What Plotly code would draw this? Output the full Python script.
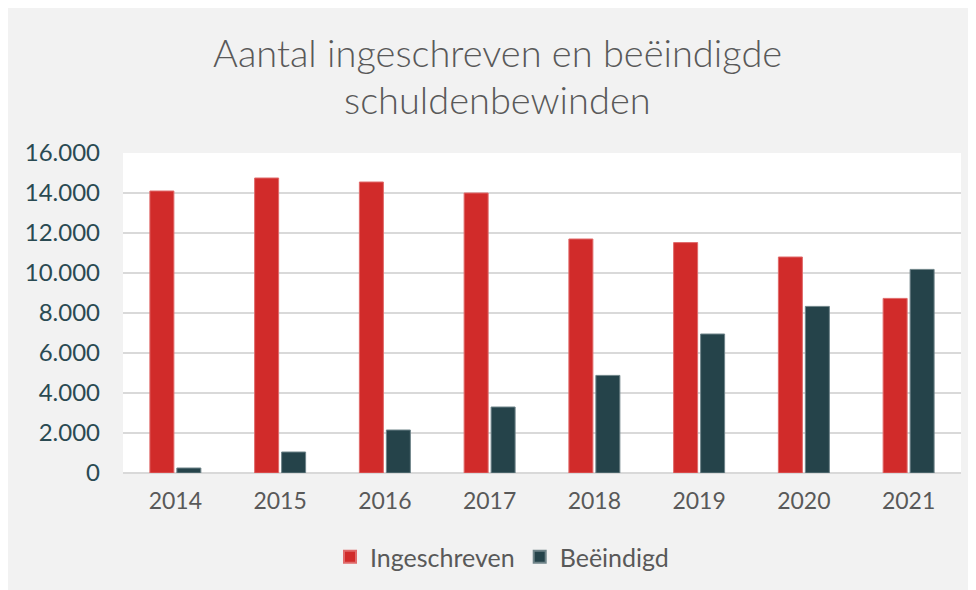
import plotly.graph_objects as go

years = ["2014", "2015", "2016", "2017", "2018", "2019", "2020", "2021"]
ingeschreven = [14100, 14750, 14550, 14000, 11700, 11520, 10800, 8730]
beeindigd = [250, 1050, 2150, 3300, 4880, 6950, 8330, 10180]

title_lines = ["Aantal ingeschreven en beëindigde", "schuldenbewinden"]
FONT = "Lato"
RED = "#D12B2A"
DARK = "#25434A"
GRAY_TXT = "#595959"

fig = go.Figure()
fig.add_trace(go.Bar(x=years, y=ingeschreven, name="Ingeschreven",
                     marker=dict(color=RED, line=dict(color="#E06A6A", width=1))))
fig.add_trace(go.Bar(x=years, y=beeindigd, name="Beëindigd",
                     marker=dict(color=DARK, line=dict(color="#6F8489", width=1))))

# page body has an 8px margin; figure starts at (8, 8) on screen
W, H = 962, 582
L, R, T, B = 115, 9, 145, 117
pw, ph = W - L - R, H - T - B

def px(x):
    return (x - L) / pw

def py(y):
    return (H - B - y) / ph

for txt, yc in zip(title_lines, [44, 91]):
    fig.add_annotation(text=txt, xref="paper", yref="paper",
                       x=px(489), y=py(yc), xanchor="center", yanchor="middle",
                       showarrow=False,
                       font=dict(family=FONT, size=38, color=GRAY_TXT, weight=300))

fig.update_layout(
    width=W, height=H,
    margin=dict(l=L, r=R, t=T, b=B),
    paper_bgcolor="#F2F2F2", plot_bgcolor="#FFFFFF",
    separators=",.",
    barmode="group", bargap=0.485, bargroupgap=0.11,
    font=dict(family=FONT, color=GRAY_TXT),
    showlegend=True,
    legend=dict(orientation="h", xref="container", yref="container",
                x=494 / W, xanchor="center", y=1 - 549 / H, yanchor="middle",
                font=dict(family=FONT, size=25, color=GRAY_TXT),
                itemsizing="constant", itemwidth=30, traceorder="normal",
                bgcolor="rgba(0,0,0,0)"),
    xaxis=dict(showgrid=False, showline=False, ticks="",
               tickfont=dict(family=FONT, size=23, color=GRAY_TXT),
               ticklabelstandoff=12),
    yaxis=dict(range=[0, 16000], dtick=2000, tickformat=",d",
               showgrid=True, gridcolor="#D9D9D9", gridwidth=1.5,
               zeroline=True, zerolinecolor="#D9D9D9", zerolinewidth=2,
               showline=False, ticks="",
               tickfont=dict(family=FONT, size=24, color="#2A4A52"),
               ticklabelstandoff=22),
)

fig.write_html("out.html")
